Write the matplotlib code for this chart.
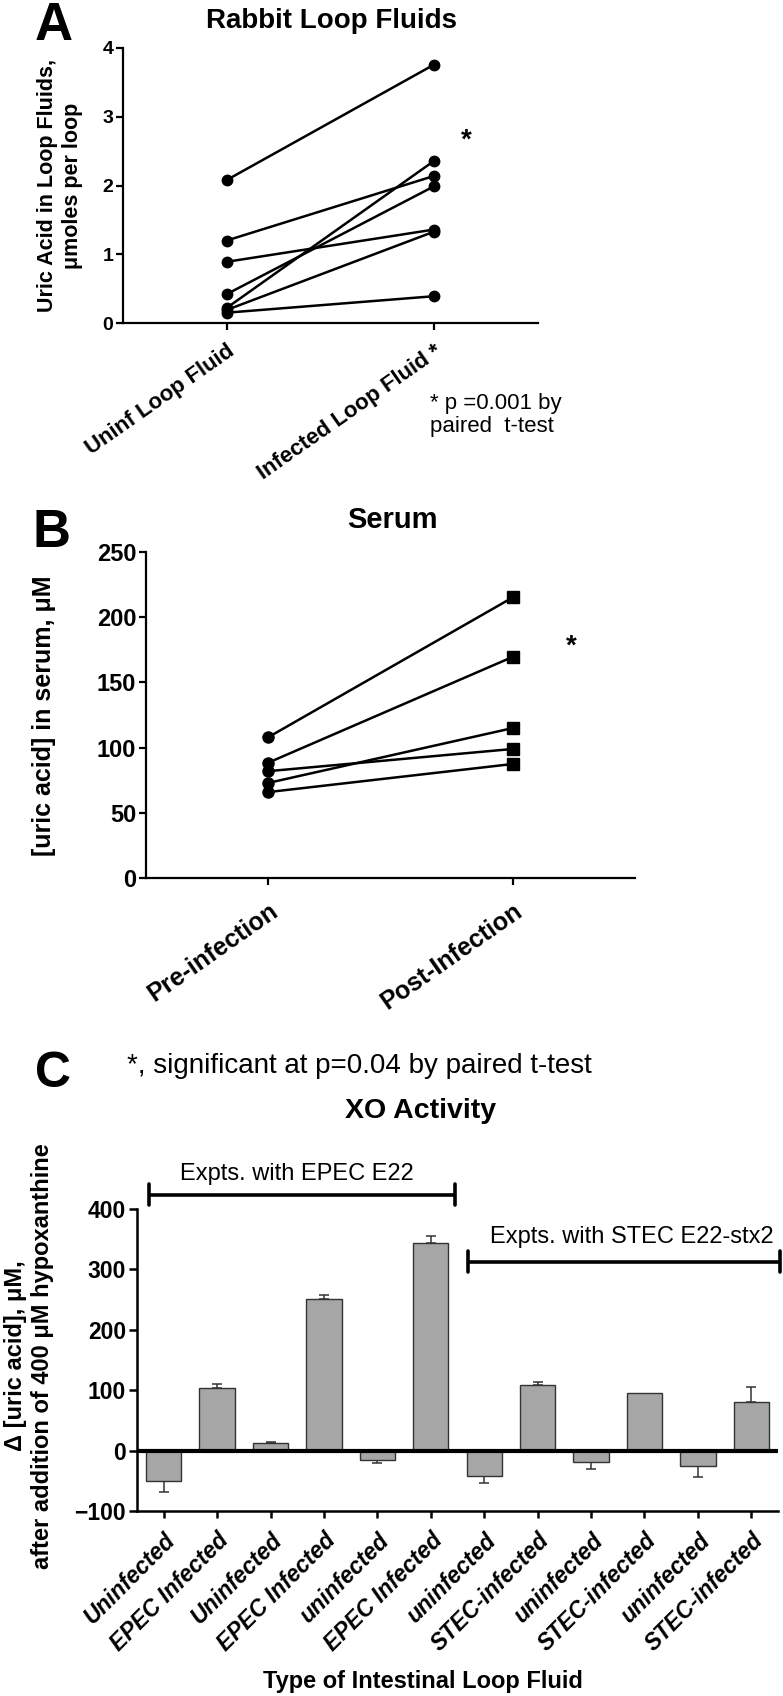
import numpy as np
import matplotlib
matplotlib.use('Agg')
import matplotlib.pyplot as plt

plt.rcParams['font.family'] = ['Liberation Sans', 'DejaVu Sans']

W, H = 783, 1696  # pixels

# --- A: Rabbit loop fluids (paired) ---
a_cats = ['Uninf Loop Fluid', 'Infected Loop Fluid *']
a_uninf = [2.08, 1.20, 0.89, 0.42, 0.22, 0.19, 0.15]
a_inf = [3.76, 2.14, 1.36, 1.99, 2.36, 1.33, 0.39]

# --- B: Serum (paired) ---
b_cats = ['Pre-infection', 'Post-Infection']
b_pre = [108, 88.5, 73, 82, 66]
b_post = [215, 169.5, 115, 99, 87.5]

# --- C: XO activity ---
c_cats = ['Uninfected', 'EPEC Infected', 'Uninfected', 'EPEC Infected',
          'uninfected', 'EPEC Infected', 'uninfected', 'STEC-infected',
          'uninfected', 'STEC-infected', 'uninfected', 'STEC-infected']
c_vals = [-50, 104, 12, 251, -15, 343, -42, 109, -19, 96, -25, 80]
c_err = [18, 7, 3, 6, 5, 12, 11, 5, 11, 0, 18, 25]
groups = ['Expts. with EPEC E22', 'Expts. with STEC E22-stx2']
group_span = [(-0.28, 5.46), (5.70, 11.53)]
group_y = [424, 313]


def fx(x):
    return x / W


def fy(y):
    return 1 - y / H


def style(ax, lw=1.6):
    ax.spines['top'].set_visible(False)
    ax.spines['right'].set_visible(False)
    ax.spines['left'].set_linewidth(lw)
    ax.spines['bottom'].set_linewidth(lw)
    ax.tick_params(width=lw, length=5, color='black')


fig = plt.figure(figsize=(W / 100, H / 100), dpi=100)

# ---------------- A ----------------
axA = fig.add_axes([fx(123), fy(323), 415 / W, 275 / H])
for u, i in zip(a_uninf, a_inf):
    axA.plot([0, 1], [u, i], color='black', lw=1.8, marker='o', ms=7.5)
axA.set_xlim(-0.5, 1.5)
axA.set_ylim(0, 4)
axA.set_yticks([0, 1, 2, 3, 4])
axA.set_xticks([0, 1])
axA.set_xticklabels(a_cats, rotation=35, ha='right', rotation_mode='anchor',
                    fontsize=16, fontweight='bold')
style(axA)
axA.tick_params(axis='y', labelsize=14, pad=2)
axA.tick_params(axis='x', pad=8)
for t in axA.get_yticklabels():
    t.set_fontweight('bold')

fig.text(fx(35), fy(40), 'A', fontsize=38, fontweight='bold', va='baseline')
fig.text(fx(332), fy(28), 'Rabbit Loop Fluids', fontsize=20, fontweight='bold',
         ha='center', va='baseline')
fig.text(fx(60), fy(186), 'Uric Acid in Loop Fluids,\nμmoles per loop', fontsize=15.5,
         fontweight='bold', rotation=90, ha='center', va='center', linespacing=1.3)
fig.text(fx(466), fy(141), '*', fontsize=20, fontweight='bold', ha='center', va='center')
fig.text(fx(430), fy(415), '* p =0.001 by\npaired  t-test', fontsize=16,
         ha='left', va='center', linespacing=1.1)

# ---------------- B ----------------
axB = fig.add_axes([fx(146), fy(878.3), 489 / W, 326.6 / H])
for p, q in zip(b_pre, b_post):
    axB.plot([0, 1], [p, q], color='black', lw=1.8)
    axB.plot(0, p, 'o', color='black', ms=8)
    axB.plot(1, q, 's', color='black', ms=9)
axB.set_xlim(-0.5, 1.5)
axB.set_ylim(0, 250)
axB.set_yticks([0, 50, 100, 150, 200, 250])
axB.set_xticks([0, 1])
axB.set_xticklabels(b_cats, rotation=35, ha='right', rotation_mode='anchor',
                    fontsize=18, fontweight='bold')
style(axB)
axB.tick_params(axis='y', labelsize=17, pad=2)
axB.tick_params(axis='x', pad=10)
for t in axB.get_yticklabels():
    t.set_fontweight('bold')

fig.text(fx(33), fy(547), 'B', fontsize=38, fontweight='bold', va='baseline')
fig.text(fx(392), fy(528), 'Serum', fontsize=21, fontweight='bold',
         ha='center', va='baseline')
fig.text(fx(44), fy(716), '[uric acid] in serum, μM', fontsize=18,
         fontweight='bold', rotation=90, ha='center', va='center')
fig.text(fx(571), fy(647), '*', fontsize=20, fontweight='bold', ha='center', va='center')

# ---------------- C ----------------
axC = fig.add_axes([fx(137), fy(1511), 641 / W, 302 / H])
x = np.arange(len(c_vals))
axC.bar(x, c_vals, width=0.66, color='#a6a6a6', edgecolor='#333333', lw=1.0, zorder=2)
for xi, v, e in zip(x, c_vals, c_err):
    if e <= 0:
        continue
    yerr = [[0], [e]] if v > 0 else [[e], [0]]
    axC.errorbar(xi, v, yerr=yerr, fmt='none', ecolor='#333333', elinewidth=1.1,
                 capsize=3.6, capthick=1.1, zorder=1)
axC.axhline(0, color='black', lw=3, zorder=3)
axC.set_xlim(-0.5, 11.5)
axC.set_ylim(-100, 400)
axC.set_yticks([-100, 0, 100, 200, 300, 400])
axC.set_xticks(x)
axC.set_xticklabels(c_cats, rotation=45, ha='right', rotation_mode='anchor',
                    fontsize=16.5, fontweight='bold', fontstyle='italic')
style(axC, lw=1.8)
axC.tick_params(axis='y', labelsize=16.5, pad=2, length=6)
axC.tick_params(axis='x', pad=8, length=5)
for t in axC.get_yticklabels():
    t.set_fontweight('bold')

for name, (x0, x1), gy in zip(groups, group_span, group_y):
    axC.plot([x0, x1], [gy, gy], color='black', lw=2.6, clip_on=False,
             solid_capstyle='butt')
    for xe in (x0, x1):
        axC.plot([xe, xe], [gy - 17, gy + 17], color='black', lw=2.6,
                 clip_on=False, solid_capstyle='round')

fig.text(fx(297), fy(1180), groups[0], fontsize=17, ha='center', va='baseline')
fig.text(fx(632), fy(1243), groups[1], fontsize=17, ha='center', va='baseline')

fig.text(fx(35), fy(1087), 'C', fontsize=36, fontweight='bold', va='baseline')
fig.text(fx(127), fy(1073), '*, significant at p=0.04 by paired t-test', fontsize=20,
         ha='left', va='baseline')
fig.text(fx(421), fy(1118), 'XO Activity', fontsize=20.5, fontweight='bold',
         ha='center', va='baseline')
fig.text(fx(29), fy(1356), 'Δ [uric acid], μM,\nafter addition of 400 μM hypoxanthine',
         fontsize=17, fontweight='bold', rotation=90, ha='center', va='center',
         linespacing=1.2)
fig.text(fx(423), fy(1688), 'Type of Intestinal Loop Fluid', fontsize=17,
         fontweight='bold', ha='center', va='baseline')

fig.savefig('out.png', dpi=100)
